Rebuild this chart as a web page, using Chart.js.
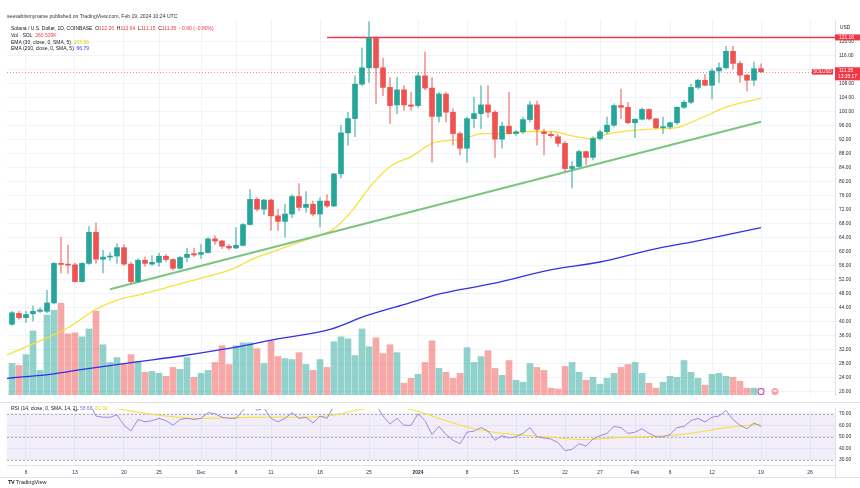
<!DOCTYPE html>
<html><head><meta charset="utf-8">
<script src="https://cdn.jsdelivr.net/npm/chart.js@4.4.1/dist/chart.umd.min.js"></script>
<style>
html,body{margin:0;padding:0;background:#fff;}
#wrap{position:relative;width:860px;height:488px;overflow:hidden;font-family:"Liberation Sans",Arial,sans-serif;color:#131722;background:#fff;}
canvas{position:absolute;left:0;}
#cA{top:0;} #cB{top:402px;}
.t{position:absolute;white-space:nowrap;font-size:5px;line-height:7px;color:#131722;}
.r{color:#f23645;} .yl{color:#e6cf00;} .bl{color:#3434e8;} .pu{color:#8e6fd0;}
</style></head>
<body>
<div id="wrap">
<canvas id="cA" width="860" height="402"></canvas>
<canvas id="cB" width="860" height="86"></canvas>
<div class="t" style="left:7px;top:13.2px;color:#333;font-size:5.1px">seesabitsmyname published on TradingView.com, Feb 19, 2024 10:24 UTC</div>
<div class="t" style="left:11px;top:24.8px">Solana / U.S. Dollar, 1D, COINBASE&nbsp; O<span class="r">112.26</span>&nbsp; H<span class="r">113.64</span>&nbsp; L<span class="r">111.15</span>&nbsp; C<span class="r">111.35</span>&nbsp; <span class="r">−0.90 (−0.80%)</span></div>
<div class="t" style="left:11px;top:31.5px">Vol · SOL&nbsp; <span class="r">260.539K</span></div>
<div class="t" style="left:11px;top:38.8px">EMA (30, close, 0, SMA, 5)&nbsp; <span class="yl">103.86</span></div>
<div class="t" style="left:11px;top:45.3px">EMA (200, close, 0, SMA, 5)&nbsp; <span class="bl">66.79</span></div>
<div class="t" style="left:11px;top:405px">RSI (14, close, 0, SMA, 14, 2)&nbsp; <span class="pu">58.68</span>&nbsp; <span class="yl">61.02</span></div>
<div class="t" style="left:840px;top:23.5px;font-size:4.8px">USD</div>
<div class="t" style="left:8px;top:479px;font-size:5.6px;font-weight:bold;letter-spacing:-0.3px">TV <span style="font-weight:normal;letter-spacing:0">TradingView</span></div>
</div>
<script>
// ---------- data ----------
const dayIndex = Array.from({length:108}, (_, i) => i); // Nov 4 2023 .. Feb 19 2024, one candle per day
const openP = [
39.2,42.3,41.1,42.2,42.9,42.9,45.3,56.6,56.3,56.2,
51.4,56.6,65.5,57.8,58.4,58.7,61.1,56.4,51.4,57.5,
56.4,56.9,58.65,57.7,55.2,58.3,59.4,59.2,59.7,63.6,
63.0,61.5,61.0,61.75,67.7,74.9,72.1,74.7,70.2,68.6,
70.7,75.7,72.6,73.5,70.7,74.4,73.0,82.2,93.9,98.0,
107.8,112.5,121.0,112.5,106.9,101.9,106.2,101.9,101.7,110.2,
106.7,98.6,105.0,99.8,93.7,89.5,97.95,99.4,101.9,99.8,
92.1,95.8,93.7,94.2,97.7,101.9,94.2,93.5,92.8,90.9,
83.7,84.3,88.55,86.9,92.3,94.2,96.1,101.7,101.2,96.8,
97.8,100.6,97.9,95.4,95.6,96.8,101.2,102.65,106.9,108.95,
107.5,111.6,112.5,117.2,113.75,110.4,108.95,112.26];
const highP = [
42.9,42.9,42.9,44.5,43.9,48.9,56.8,64.1,61.8,56.6,
56.8,67.1,68.2,60.3,59.6,62.2,62.0,57.0,58.0,58.5,
58.8,59.5,59.2,58.0,58.6,61.0,61.0,62.0,64.0,64.5,
63.2,62.0,66.8,68.0,77.7,75.5,74.9,75.0,72.0,73.5,
76.3,79.4,77.1,74.4,75.4,76.3,82.3,96.1,99.8,110.2,
118.2,125.7,121.5,115.3,109.7,109.7,107.4,105.5,111.1,117.0,
109.7,105.5,105.5,100.8,94.2,98.4,104.1,107.4,107.4,100.3,
97.0,105.5,94.6,98.4,102.9,103.0,95.0,94.2,93.5,91.5,
85.7,89.0,88.7,92.8,94.7,98.4,102.2,106.4,102.65,97.95,
101.0,100.8,98.1,98.4,97.0,101.4,103.1,107.8,109.2,110.6,
112.1,113.9,118.6,118.6,114.4,110.6,114.1,113.64];
const lowP = [
38.9,40.6,39.7,40.1,42.5,42.5,45.0,53.8,53.8,51.2,
51.2,56.3,56.6,53.9,57.4,56.6,56.0,51.0,51.2,55.8,
56.0,55.8,57.0,54.6,55.0,57.0,58.5,58.0,59.5,62.0,
60.8,60.5,60.8,61.5,67.5,71.5,70.5,66.0,66.0,64.1,
69.7,71.6,71.2,70.2,67.0,72.6,72.8,81.0,90.4,92.8,
107.4,108.3,102.2,104.5,96.5,99.4,100.3,100.3,101.2,106.2,
85.5,97.0,97.0,90.4,87.6,85.5,95.3,95.1,98.4,86.9,
89.5,93.5,93.2,93.7,97.0,90.4,87.6,92.5,90.0,82.9,
78.2,84.0,84.8,86.2,91.8,93.7,95.6,97.95,96.5,92.5,
97.5,97.6,95.1,93.7,95.0,96.3,100.8,102.2,106.4,107.4,
103.6,108.3,112.2,112.1,108.3,105.9,107.4,111.15];
const closeP = [
42.5,41.1,42.0,42.9,43.3,45.3,56.6,56.3,56.1,51.4,
56.6,65.5,57.8,58.4,58.7,61.1,56.4,51.4,57.5,56.6,
56.9,58.65,57.7,55.2,58.3,59.2,59.0,59.7,63.6,63.0,
61.5,61.0,61.75,67.7,74.9,72.1,74.7,70.2,68.6,70.7,
75.7,72.6,73.5,70.7,74.4,73.0,82.2,93.9,98.0,107.8,
112.5,121.0,112.5,106.9,101.7,106.2,101.9,101.5,110.2,106.7,
98.6,105.0,99.8,93.7,89.5,97.95,99.4,101.9,99.8,92.1,
95.8,93.7,94.2,97.7,101.9,94.9,93.7,93.1,90.9,83.7,
84.3,88.55,86.9,92.3,94.2,96.1,101.7,101.2,96.8,97.8,
100.6,97.9,95.4,95.6,96.8,101.2,102.65,106.9,108.95,107.5,
111.6,112.5,117.2,113.75,110.4,108.95,112.24,111.35];
// volume in thousands of SOL
const volumeK = [
1190,1116,1525,2418,930,3013,3199,3460,2306,2344,
2195,2492,3162,1897,1228,1414,1190,1525,1265,856,
893,818,707,1042,967,1414,670,818,930,1228,
1860,1153,1860,1972,1972,1748,1190,2046,1451,1376,
1339,1600,1153,930,1339,1042,2009,2195,2120,1488,
2492,1823,2158,1562,1897,1600,446,632,781,1228,
2046,1004,856,632,818,1786,1228,1451,1674,1004,
744,1302,558,484,1190,1042,930,260,223,1079,
1228,856,558,670,409,632,818,1042,1153,1228,
818,446,260,484,707,670,1302,856,632,372,
781,818,707,670,521,260,260,260.5];
// EMA 30 (yellow)
const ema30Day = [-1,3,8,12,15.4,18.3,22.1,26.9,31.6,34.4,37.9,42.3,45.9,48.6,51.4,54.3,57.1,60,62.3,64.3,67.1,70,73.7,77.1,79.7,82.6,85.4,88.7,92.6,95,97.3,102.1,107];
const ema30Val = [30.2,33.6,38.2,43.5,46.3,47.7,49.7,52.3,55.1,57.9,60.4,63.5,66.4,71.7,79.1,84.7,87.2,90.9,91.7,92.0,93.7,93.7,94.3,94.3,93.2,92.3,93.7,94.6,95.1,95.4,97.1,101.3,103.86];
// EMA 200 (blue)
const ema200Day = [-1,5.4,10.1,17.3,24.4,31.6,37.9,45.7,50.4,56.6,61.4,68.6,77.1,84,91.1,98.3,107];
const ema200Val = [23.7,24.9,26.3,28.3,30.2,32.5,35.0,37.9,41.5,45.2,48.0,50.8,54.8,57.0,60.4,63.2,66.79];
// green trend line
const trendDay = [14,107];
const trendVal = [49.2,97.1];
// red horizontal level
const levelValue = 121.18;
const levelStartDay = 45;
const levelEndDay = 117.57;
const lastPrice = 111.35;
const countdown = '13:35:17';
// RSI 14 (purple) per candle
const rsiVal = [
82,78,79,80,81,83,90,89,88,72,
76,80,68,67,67,69,60,55,65,63,
64,66,64,60,65,66,65,66,71,70,
67,66,66,73,79,73,75,66,63,66,
71,66,67,62,68,66,77,85,87,90,
91,93,78,68,61,66,60,60,70,64,
52,59,52,47,44,54,55,58,55,47,
51,49,50,53,58,50,49,48,45,38,
39,44,42,48,51,53,59,58,53,54,
57,53,50,50,52,58,59,64,66,63,
67,68,73,65,60,57,62,59];
// RSI-based MA (yellow)
const rsiSmaDay = [-1,10,15.4,20,27,35,40,45,50,54,58,62,66,70,74,78,82,86,90,94,98,102,107];
const rsiSmaVal = [80,77,74,69.5,66,67,67,68,74,77,72,64,57,53,51,49,47.5,49,50,51,54,58,61];
// axis ticks
const tickDays = [2,9,16,21,27,32,37,44,51,58,65,72,79,84,89,94,100,107,114];
const tickLabels = ['6','13','20','25','Dec','6','11','18','25','2024','8','15','22','27','Feb','6','12','19','26'];
const priceTicks = [20,24,28,32,36,40,44,48,52,56,60,64,68,72,76,80,84,88,92,96,100,104,108,112,116,120];
const rsiTicks = [30,40,50,60,70];
const rsiBand = [30,70];

// ---------- view settings ----------
const X_MIN = -0.714, X_MAX = 117.57;
const Y_MIN = 18.97, Y_MAX = 126.16;
const VOL_MAX = 14136;
const RSI_MIN = 25.5, RSI_MAX = 74.2;
const FAM = '"Liberation Sans", Arial, sans-serif';
const UP = '#26a69a', DN = '#ef5350';
const GRID = '#f0f3fa';
const AXISC = '#e0e3eb';
const TXT = '#2a2e39';
const AXF = 4.9;

const isUp = dayIndex.map(i => closeP[i] >= openP[i]);

const overlayA = {
  id: 'overlayA',
  beforeDatasetsDraw(chart) {
    const {ctx, chartArea: a, scales: {y}} = chart;
    const py = Math.round(y.getPixelForValue(lastPrice)) + 0.5;
    ctx.save();
    ctx.strokeStyle = 'rgba(242,54,69,0.6)';
    ctx.lineWidth = 1;
    ctx.setLineDash([1, 2]);
    ctx.beginPath(); ctx.moveTo(a.left, py); ctx.lineTo(a.right, py); ctx.stroke();
    ctx.restore();
  },
  afterDraw(chart) {
    const {ctx, chartArea: a, scales: {x, y}} = chart;
    ctx.save();
    ctx.font = AXF + 'px ' + FAM;
    ctx.textBaseline = 'middle';
    const ly = y.getPixelForValue(levelValue);
    ctx.fillStyle = '#f23645';
    ctx.fillRect(a.right, ly - 3, 25, 6);
    ctx.fillStyle = '#fff';
    ctx.textAlign = 'left';
    ctx.fillText(levelValue.toFixed(2), a.right + 4, ly + 0.2);
    const py = y.getPixelForValue(lastPrice);
    ctx.fillStyle = '#f23645';
    ctx.fillRect(a.right, py - 4.5, 25, 13);
    ctx.fillStyle = '#fff';
    ctx.fillText(lastPrice.toFixed(2), a.right + 4, py - 1.3);
    ctx.fillText(countdown, a.right + 3, py + 5);
    ctx.fillStyle = '#f23645';
    ctx.fillRect(a.right - 23, py - 2.8, 21, 5.6);
    ctx.fillStyle = '#fff';
    ctx.textAlign = 'center';
    ctx.font = '4.5px ' + FAM;
    ctx.fillText('SOLUSD', a.right - 12.5, py + 0.1);
    const ix = x.getPixelForValue(dayIndex[dayIndex.length - 1]);
    ctx.strokeStyle = '#ab47bc'; ctx.lineWidth = 1;
    ctx.fillStyle = '#fff';
    ctx.beginPath(); ctx.arc(ix, a.bottom - 3.5, 3, 0, Math.PI * 2); ctx.fill(); ctx.stroke();
    ctx.fillStyle = '#f7a3a6';
    ctx.beginPath(); ctx.arc(ix + 14, a.bottom - 3.5, 3.6, 0, Math.PI * 2); ctx.fill();
    ctx.fillStyle = '#fff';
    ctx.fillRect(ix + 12.5, a.bottom - 5, 3, 1.5);
    ctx.restore();
  }
};

const overlayB = {
  id: 'overlayB',
  beforeDatasetsDraw(chart) {
    const {ctx, chartArea: a, scales: {rs}} = chart;
    const y1 = rs.getPixelForValue(rsiBand[1]), y0 = rs.getPixelForValue(rsiBand[0]);
    ctx.save();
    ctx.fillStyle = 'rgba(126,87,194,0.10)';
    ctx.fillRect(a.left, y1, a.right - a.left, y0 - y1);
    ctx.strokeStyle = 'rgba(120,123,134,0.55)';
    ctx.lineWidth = 1;
    ctx.setLineDash([2, 2]);
    [rsiBand[1], 50, rsiBand[0]].forEach(v => {
      const yy = Math.round(rs.getPixelForValue(v)) + 0.5;
      ctx.beginPath(); ctx.moveTo(a.left, yy); ctx.lineTo(a.right, yy); ctx.stroke();
    });
    ctx.restore();
  },
  afterDraw(chart) {
    const {ctx, chartArea: a, width} = chart;
    ctx.save();
    ctx.strokeStyle = AXISC; ctx.lineWidth = 1;
    ctx.beginPath(); ctx.moveTo(0, 0.5); ctx.lineTo(width, 0.5); ctx.stroke();
    ctx.beginPath(); ctx.moveTo(0, 75.5); ctx.lineTo(width, 75.5); ctx.stroke();
    ctx.beginPath(); ctx.moveTo(a.right + 0.5, a.bottom); ctx.lineTo(a.right + 0.5, 75.5); ctx.stroke();
    ctx.restore();
  }
};

const xScaleBase = {
  type: 'linear', axis: 'x', position: 'bottom', min: X_MIN, max: X_MAX, offset: false,
  afterBuildTicks: s => { s.ticks = tickDays.map(v => ({value: v})); }
};

new Chart(document.getElementById('cA'), {
  type: 'bar',
  data: {
    datasets: [
      { type: 'bar', label: 'Volume', yAxisID: 'vol', order: 10, grouped: false, barThickness: 6,
        data: dayIndex.map(i => ({x: i, y: volumeK[i]})),
        backgroundColor: dayIndex.map(i => isUp[i] ? 'rgba(38,166,154,0.5)' : 'rgba(239,83,80,0.5)') },
      { type: 'line', label: 'EMA 200', yAxisID: 'y', order: 6, borderColor: '#3131e6', borderWidth: 1.3, pointRadius: 0,
        cubicInterpolationMode: 'monotone', data: ema200Day.map((d, k) => ({x: d, y: ema200Val[k]})) },
      { type: 'line', label: 'EMA 30', yAxisID: 'y', order: 5, borderColor: '#f7e13a', borderWidth: 1.3, pointRadius: 0,
        cubicInterpolationMode: 'monotone', data: ema30Day.map((d, k) => ({x: d, y: ema30Val[k]})) },
      { type: 'line', label: 'Trend', yAxisID: 'y', order: 4, borderColor: '#7cc47f', borderWidth: 2, pointRadius: 0,
        data: trendDay.map((d, k) => ({x: d, y: trendVal[k]})) },
      { type: 'line', label: 'Level', yAxisID: 'y', order: 3, borderColor: '#f23645', borderWidth: 1.6, pointRadius: 0,
        data: [{x: levelStartDay, y: levelValue}, {x: levelEndDay, y: levelValue}] },
      { type: 'bar', label: 'Wicks', yAxisID: 'y', order: 2, grouped: false, barThickness: 1,
        data: dayIndex.map(i => ({x: i, y: [lowP[i], highP[i]]})),
        backgroundColor: dayIndex.map(i => isUp[i] ? 'rgba(38,166,154,0.6)' : 'rgba(239,83,80,0.6)') },
      { type: 'bar', label: 'Bodies', yAxisID: 'y', order: 1, grouped: false, barThickness: 5, minBarLength: 1,
        data: dayIndex.map(i => ({x: i, y: [openP[i], closeP[i]]})),
        backgroundColor: dayIndex.map(i => isUp[i] ? UP : DN) }
    ]
  },
  options: {
    responsive: false, devicePixelRatio: 1, animation: false, events: [],
    layout: {padding: {left: 7, top: 20, right: 0, bottom: 2}},
    plugins: {legend: {display: false}, tooltip: {enabled: false}},
    scales: {
      x: Object.assign({}, xScaleBase, {
        grid: {color: GRID, drawTicks: false, offset: false},
        border: {display: false},
        ticks: {display: false},
        afterFit: s => { s.height = 0; }
      }),
      y: {
        axis: 'y', position: 'right', min: Y_MIN, max: Y_MAX,
        grid: {color: GRID, drawTicks: false},
        border: {color: AXISC},
        ticks: {color: TXT, padding: 4, font: {family: FAM, size: AXF}, callback: v => Number(v).toFixed(2)},
        afterBuildTicks: s => { s.ticks = priceTicks.map(v => ({value: v})); },
        afterFit: s => { s.width = 25; }
      },
      vol: {axis: 'y', position: 'left', display: false, min: 0, max: VOL_MAX}
    }
  },
  plugins: [overlayA]
});

new Chart(document.getElementById('cB'), {
  type: 'line',
  data: {
    datasets: [
      { label: 'RSI MA', yAxisID: 'rs', borderColor: '#f7df2a', borderWidth: 1, pointRadius: 0, order: 2,
        cubicInterpolationMode: 'monotone', data: rsiSmaDay.map((d, k) => ({x: d, y: rsiSmaVal[k]})) },
      { label: 'RSI', yAxisID: 'rs', borderColor: '#a088dc', borderWidth: 1, pointRadius: 0, order: 1,
        data: dayIndex.map(i => ({x: i, y: rsiVal[i]})) }
    ]
  },
  options: {
    responsive: false, devicePixelRatio: 1, animation: false, events: [],
    layout: {padding: {left: 7, top: 1, right: 0, bottom: 11}},
    plugins: {legend: {display: false}, tooltip: {enabled: false}},
    scales: {
      x: Object.assign({}, xScaleBase, {
        grid: {color: GRID, drawTicks: false, offset: false},
        border: {color: AXISC},
        ticks: {color: TXT, padding: 4.5, autoSkip: false, maxRotation: 0,
          font: ctx => ({family: FAM, size: AXF, weight: (ctx.tick && ctx.tick.label === '2024') ? 'bold' : 'normal'}),
          callback: v => { const k = tickDays.indexOf(v); return k >= 0 ? tickLabels[k] : ''; }},
        afterFit: s => { s.height = 12; }
      }),
      rs: {
        axis: 'y', position: 'right', min: RSI_MIN, max: RSI_MAX,
        grid: {color: GRID, drawTicks: false},
        border: {color: AXISC},
        ticks: {color: TXT, padding: 4, font: {family: FAM, size: AXF}, callback: v => Number(v).toFixed(2)},
        afterBuildTicks: s => { s.ticks = rsiTicks.map(v => ({value: v})); },
        afterFit: s => { s.width = 25; }
      }
    }
  },
  plugins: [overlayB]
});
</script>
</body></html>
